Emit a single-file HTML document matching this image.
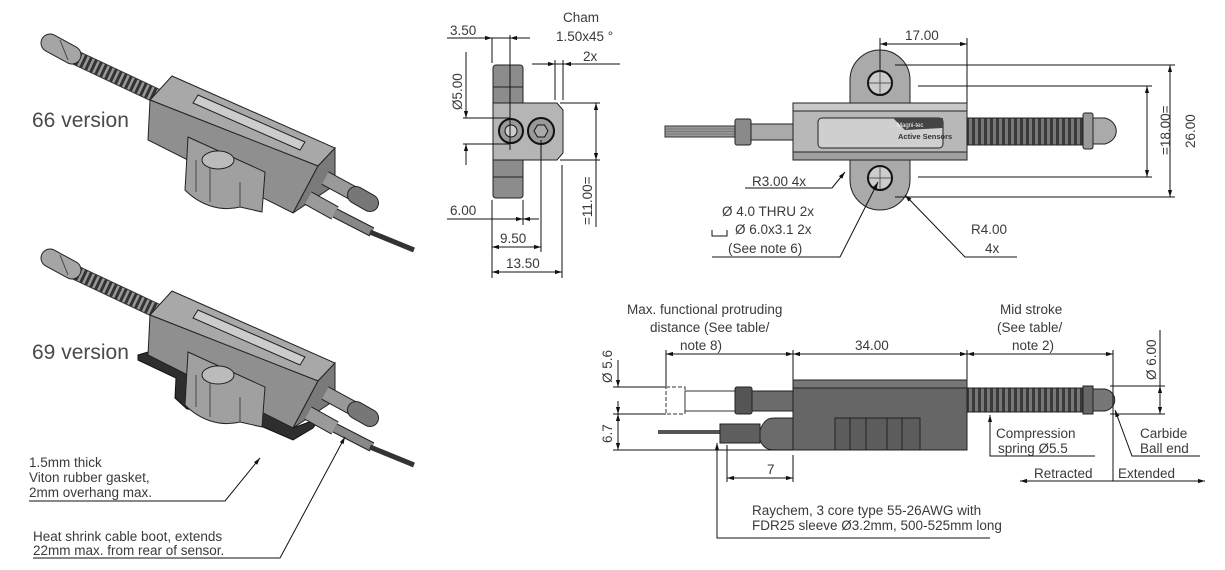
<!DOCTYPE html>
<html><head><meta charset="utf-8"><style>
html,body{margin:0;padding:0;background:#fff}
svg{display:block}
text{font-family:"Liberation Sans",sans-serif;fill:#3a3a3a;font-size:13.5px}
.big{font-size:21px;fill:#4a4a4a}
.d{stroke:#111;stroke-width:1;fill:none}
</style></head><body>
<svg width="1225" height="570" viewBox="0 0 1225 570" xmlns="http://www.w3.org/2000/svg">
<defs>
<marker id="a" viewBox="0 0 10 10" refX="10" refY="5" markerWidth="9" markerHeight="7" orient="auto-start-reverse"><path d="M0,2L10,5L0,8z" fill="#111"/></marker>
<pattern id="sp" width="6" height="10" patternUnits="userSpaceOnUse"><rect width="6" height="10" fill="#777"/><rect width="3" height="10" fill="#3a3a3a"/></pattern>
<g id="iso">
 <line x1="70" y1="55" x2="172" y2="103" stroke="#333" stroke-width="15"/>
 <line x1="70" y1="55" x2="172" y2="103" stroke="#999" stroke-width="13" stroke-dasharray="2.5,3"/>
 <line x1="50" y1="43" x2="72" y2="55" stroke="#222" stroke-width="19" stroke-linecap="round"/>
 <line x1="50" y1="43" x2="72" y2="55" stroke="#a5a5a5" stroke-width="17" stroke-linecap="round"/>
 <line x1="60" y1="40" x2="68" y2="60" stroke="#444" stroke-width="1"/>
 <path d="M172,76 L335,148 L318,166 L150,100z" fill="#a8a8a8" stroke="#222"/>
 <path d="M198,95 L305,142 L300,150 L193,103z" fill="#ccc" stroke="#222"/>
 <path d="M150,100 L318,166 L293,213 L148,140z" fill="#8f8f8f" stroke="#222"/>
 <path d="M335,148 L335,185 L293,213 L318,166z" fill="#7a7a7a" stroke="#222"/>
 <path d="M188,137 L265,172 L262,212 L240,207 C220,212 200,205 185,190z" fill="#a0a0a0" stroke="#222"/>
 <path d="M196,160 L196,192 M210,168 L210,202 M240,182 L240,207" stroke="#333" stroke-width=".8"/>
 <ellipse cx="218" cy="160" rx="16" ry="9" fill="#bbb" stroke="#222"/>
 <line x1="325" y1="178" x2="360" y2="197" stroke="#222" stroke-width="15"/>
 <line x1="325" y1="178" x2="360" y2="197" stroke="#999" stroke-width="13"/>
 <line x1="356" y1="195" x2="370" y2="203" stroke="#222" stroke-width="18" stroke-linecap="round"/>
 <line x1="356" y1="195" x2="370" y2="203" stroke="#777" stroke-width="16" stroke-linecap="round"/>
 <line x1="308" y1="198" x2="335" y2="213" stroke="#222" stroke-width="15"/>
 <line x1="308" y1="198" x2="335" y2="213" stroke="#9a9a9a" stroke-width="13"/>
 <line x1="335" y1="213" x2="372" y2="232" stroke="#222" stroke-width="10"/>
 <line x1="335" y1="213" x2="372" y2="232" stroke="#888" stroke-width="8"/>
 <line x1="370" y1="232" x2="414" y2="250" stroke="#333" stroke-width="5"/>
</g>
</defs>

<use href="#iso"/>
<text x="32" y="127" class="big">66 version</text>
<path d="M138,355 L148,352 L293,428 L320,418 L313,428 L293,440 L263,427 L257,418 L240,413 L187,409 L175,398 L176,378 L138,360z" fill="#2e2e2e" stroke="#111"/>
<use href="#iso" transform="translate(0,215)"/>
<text x="32" y="359" class="big">69 version</text>

<text x="29" y="467">1.5mm thick</text>
<text x="29" y="482">Viton rubber gasket,</text>
<text x="29" y="497">2mm overhang max.</text>
<path class="d" d="M29,501 L225,501 L260,458" marker-end="url(#a)"/>
<text x="33" y="541">Heat shrink cable boot, extends</text>
<text x="33" y="555">22mm max. from rear of sensor.</text>
<path class="d" d="M33,558 L280,558 L345,437" marker-end="url(#a)"/>

<!-- End view -->
<rect x="493" y="65" width="30" height="133" rx="3" fill="#8c8c8c" stroke="#222"/>
<line x1="493" y1="87" x2="523" y2="87" stroke="#222"/><line x1="493" y1="177" x2="523" y2="177" stroke="#222"/>
<path d="M493,103 L557,103 L563,110 L563,153 L557,160 L493,160z" fill="#b5b5b5" stroke="#222"/>
<circle cx="511" cy="131" r="12" fill="#999" stroke="#111" stroke-width="2"/><circle cx="511" cy="131" r="6" fill="#ccc" stroke="#111"/>
<circle cx="541" cy="131" r="13" fill="#999" stroke="#111" stroke-width="2"/><path d="M534,131 l3.5,-6 h7 l3.5,6 l-3.5,6 h-7z" fill="#aaa" stroke="#111"/>
<g class="d">
<path d="M447,38 L530,38"/><path d="M492,38 L492,63"/><path d="M510,35 L510,150"/>
<path d="M470,38 L492,38" marker-end="url(#a)"/><path d="M530,38 L510,38" marker-end="url(#a)"/>
<path d="M555,64 L620,64"/><path d="M532,64 L555,64" marker-end="url(#a)"/><path d="M580,64 L564,64" marker-end="url(#a)"/>
<path d="M555,60 L555,100"/><path d="M563,60 L563,100"/>
<path d="M463,118 L510,118"/><path d="M463,144 L510,144"/>
<path d="M466,52 L466,118" marker-end="url(#a)"/><path d="M466,165 L466,144" marker-end="url(#a)"/>
<path d="M560,103 L600,103"/><path d="M560,160 L600,160"/>
<path d="M596,131 L596,103" marker-end="url(#a)"/><path d="M596,131 L596,160" marker-end="url(#a)"/><path d="M596,160 L596,227"/>
<path d="M447,219 L523,219"/><path d="M523,200 L523,225"/><path d="M492,200 L492,278"/>
<path d="M507,219 L523,219" marker-end="url(#a)"/><path d="M539,219 L523,219" marker-end="url(#a)"/>
<path d="M541,140 L541,252"/><path d="M562,165 L562,278"/>
<path d="M492,247 L541,247" marker-start="url(#a)" marker-end="url(#a)"/>
<path d="M492,272 L562,272" marker-start="url(#a)" marker-end="url(#a)"/>
</g>
<text x="450" y="35">3.50</text>
<text x="563" y="22">Cham</text>
<text x="556" y="41">1.50x45 °</text>
<text x="583" y="61">2x</text>
<text transform="translate(462,110) rotate(-90)">Ø5.00</text>
<text transform="translate(592,225) rotate(-90)">=11.00=</text>
<text x="450" y="215">6.00</text>
<text x="500" y="243">9.50</text>
<text x="506" y="268">13.50</text>

<!-- Top view -->
<path d="M850,103 L850,80 A30,30 0 0 1 910,80 L910,103z" fill="#aaa" stroke="#222"/>
<path d="M850,160 L850,180 A30,30 0 0 0 910,180 L910,160z" fill="#aaa" stroke="#222"/>
<circle cx="880" cy="83" r="12" fill="#ccc" stroke="#111" stroke-width="2"/>
<circle cx="880" cy="178" r="12" fill="#ccc" stroke="#111" stroke-width="2"/>
<path d="M880,71 V95 M868,83 H892 M880,166 V190 M868,178 H892" stroke="#333" stroke-width=".7"/>
<rect x="793" y="103" width="174" height="57" fill="#b8b8b8" stroke="#222"/>
<rect x="793" y="103" width="174" height="8" fill="#c8c8c8" stroke="#222"/>
<rect x="793" y="152" width="174" height="8" fill="#a0a0a0" stroke="#222"/>
<rect x="818" y="118" width="125" height="30" rx="4" fill="#cfcfcf" stroke="#222"/>
<path d="M893,118 L943,118 L943,128 L905,130z" fill="#444"/>
<text x="897" y="127" style="font-size:6px;fill:#fff">Magni-tec</text>
<text x="898" y="139" style="font-size:7.5px;font-weight:bold;fill:#333">Active Sensors</text>
<rect x="665" y="126" width="75" height="11" fill="#999" stroke="#333"/>
<path d="M665,129 H740 M665,131.5 H740 M665,134 H740" stroke="#555" stroke-width=".6"/>
<rect x="735" y="119" width="16" height="26" rx="2" fill="#8a8a8a" stroke="#222"/>
<rect x="751" y="124" width="42" height="16" fill="#aaa" stroke="#222"/>
<rect x="967" y="118" width="118" height="27" fill="url(#sp)" stroke="#222"/>
<rect x="1083" y="113" width="10" height="36" rx="2" fill="#999" stroke="#222"/>
<path d="M1093,118 L1105,118 C1120,122 1120,140 1105,144 L1093,144z" fill="#aaa" stroke="#222"/>
<g class="d">
<path d="M880,38 L880,70"/><path d="M967,38 L967,103"/>
<path d="M880,44 L967,44" marker-start="url(#a)" marker-end="url(#a)"/>
<path d="M895,65 L1175,65"/><path d="M918,86 L1152,86"/><path d="M918,177 L1152,177"/><path d="M895,197 L1175,197"/>
<path d="M1170,65 L1170,197" marker-start="url(#a)" marker-end="url(#a)"/>
<path d="M1147,86 L1147,177" marker-start="url(#a)" marker-end="url(#a)"/>
<path d="M745,188 L832,188 L845,172" marker-end="url(#a)"/>
<path d="M712,257 L840,257 L878,182" marker-end="url(#a)"/>
<path d="M1017,257 L965,257 L905,195" marker-end="url(#a)"/>
<path d="M712,230 V236 H727 V230"/>
</g>
<text x="905" y="40">17.00</text>
<text transform="translate(1195,148) rotate(-90)">26.00</text>
<text transform="translate(1170,155) rotate(-90)">=18.00=</text>
<text x="752" y="186">R3.00 4x</text>
<text x="722" y="216">Ø 4.0 THRU  2x</text>
<text x="735" y="234">Ø 6.0x3.1 2x</text>
<text x="728" y="253">(See note 6)</text>
<text x="971" y="234">R4.00</text>
<text x="985" y="253">4x</text>

<!-- Side view -->
<rect x="666" y="387" width="19" height="27" fill="none" stroke="#333" stroke-dasharray="4,2"/>
<rect x="685" y="391" width="108" height="20" fill="#fff" stroke="#333"/>
<rect x="750" y="391" width="43" height="20" fill="#6b6b6b" stroke="#222"/>
<rect x="735" y="387" width="17" height="27" rx="2" fill="#555" stroke="#222"/>
<rect x="658" y="430" width="62" height="4" fill="#555"/>
<rect x="720" y="424" width="40" height="19" fill="#5e5e5e" stroke="#222"/>
<path d="M760,430 C765,418 770,418 775,418 L793,418 L793,450 L775,450 C768,450 763,448 760,440z" fill="#6b6b6b" stroke="#222"/>
<rect x="793" y="380" width="174" height="70" fill="#666" stroke="#222"/>
<rect x="793" y="380" width="174" height="8" fill="#777" stroke="#222"/>
<rect x="835" y="418" width="85" height="32" fill="#5c5c5c" stroke="#222"/>
<path d="M850,418 V450 M866,418 V450 M887,418 V450 M902,418 V450" stroke="#222"/>
<rect x="967" y="388" width="118" height="24" fill="url(#sp)" stroke="#222"/>
<rect x="1083" y="386" width="10" height="28" fill="#666" stroke="#222"/>
<path d="M1093,389 L1105,389 C1118,392 1118,408 1105,411 L1093,411z" fill="#777" stroke="#222"/>
<g class="d">
<path d="M666,354 L793,354" marker-start="url(#a)" marker-end="url(#a)"/>
<path d="M793,354 L967,354" marker-start="url(#a)" marker-end="url(#a)"/>
<path d="M967,354 L1113,354" marker-start="url(#a)" marker-end="url(#a)"/>
<path d="M666,350 V386"/><path d="M793,350 V380"/><path d="M967,350 V380"/><path d="M1113,350 V481"/>
<path d="M613,387 L666,387"/><path d="M613,414 L666,414"/><path d="M613,450 L793,450"/>
<path d="M618,360 L618,387" marker-end="url(#a)"/><path d="M618,401 L618,414" marker-end="url(#a)"/>
<path d="M618,432 L618,414" marker-end="url(#a)"/><path d="M618,432 L618,450" marker-end="url(#a)"/>
<path d="M1110,386 L1165,386"/><path d="M1110,414 L1165,414"/>
<path d="M1160,400 L1160,386" marker-end="url(#a)"/><path d="M1160,400 L1160,414" marker-end="url(#a)"/><path d="M1160,386 V330"/>
<path d="M727,445 V482"/><path d="M793,455 V482"/>
<path d="M727,478 L793,478" marker-start="url(#a)" marker-end="url(#a)"/>
<path d="M1095,456 L990,456 L990,415" marker-end="url(#a)"/>
<path d="M1200,456 L1132,456 L1115,410" marker-end="url(#a)"/>
<path d="M1020,481 L1205,481" marker-start="url(#a)" marker-end="url(#a)"/>
<path d="M990,538 L717,538 L717,443" marker-end="url(#a)"/>
</g>
<text x="627" y="314">Max. functional protruding</text>
<text x="650" y="332">distance (See table/</text>
<text x="680" y="350">note 8)</text>
<text x="1000" y="314">Mid stroke</text>
<text x="997" y="332">(See table/</text>
<text x="1012" y="350">note 2)</text>
<text x="855" y="350">34.00</text>
<text transform="translate(612,383) rotate(-90)">Ø 5.6</text>
<text transform="translate(612,443) rotate(-90)">6.7</text>
<text transform="translate(1156,380) rotate(-90)">Ø 6.00</text>
<text x="767" y="474">7</text>
<text x="996" y="438">Compression</text>
<text x="998" y="453">spring Ø5.5</text>
<text x="1140" y="438">Carbide</text>
<text x="1140" y="453">Ball end</text>
<text x="1034" y="478">Retracted</text>
<text x="1118" y="478">Extended</text>
<text x="752" y="515">Raychem, 3 core type 55-26AWG with</text>
<text x="752" y="530">FDR25 sleeve Ø3.2mm, 500-525mm long</text>
</svg>
</body></html>
